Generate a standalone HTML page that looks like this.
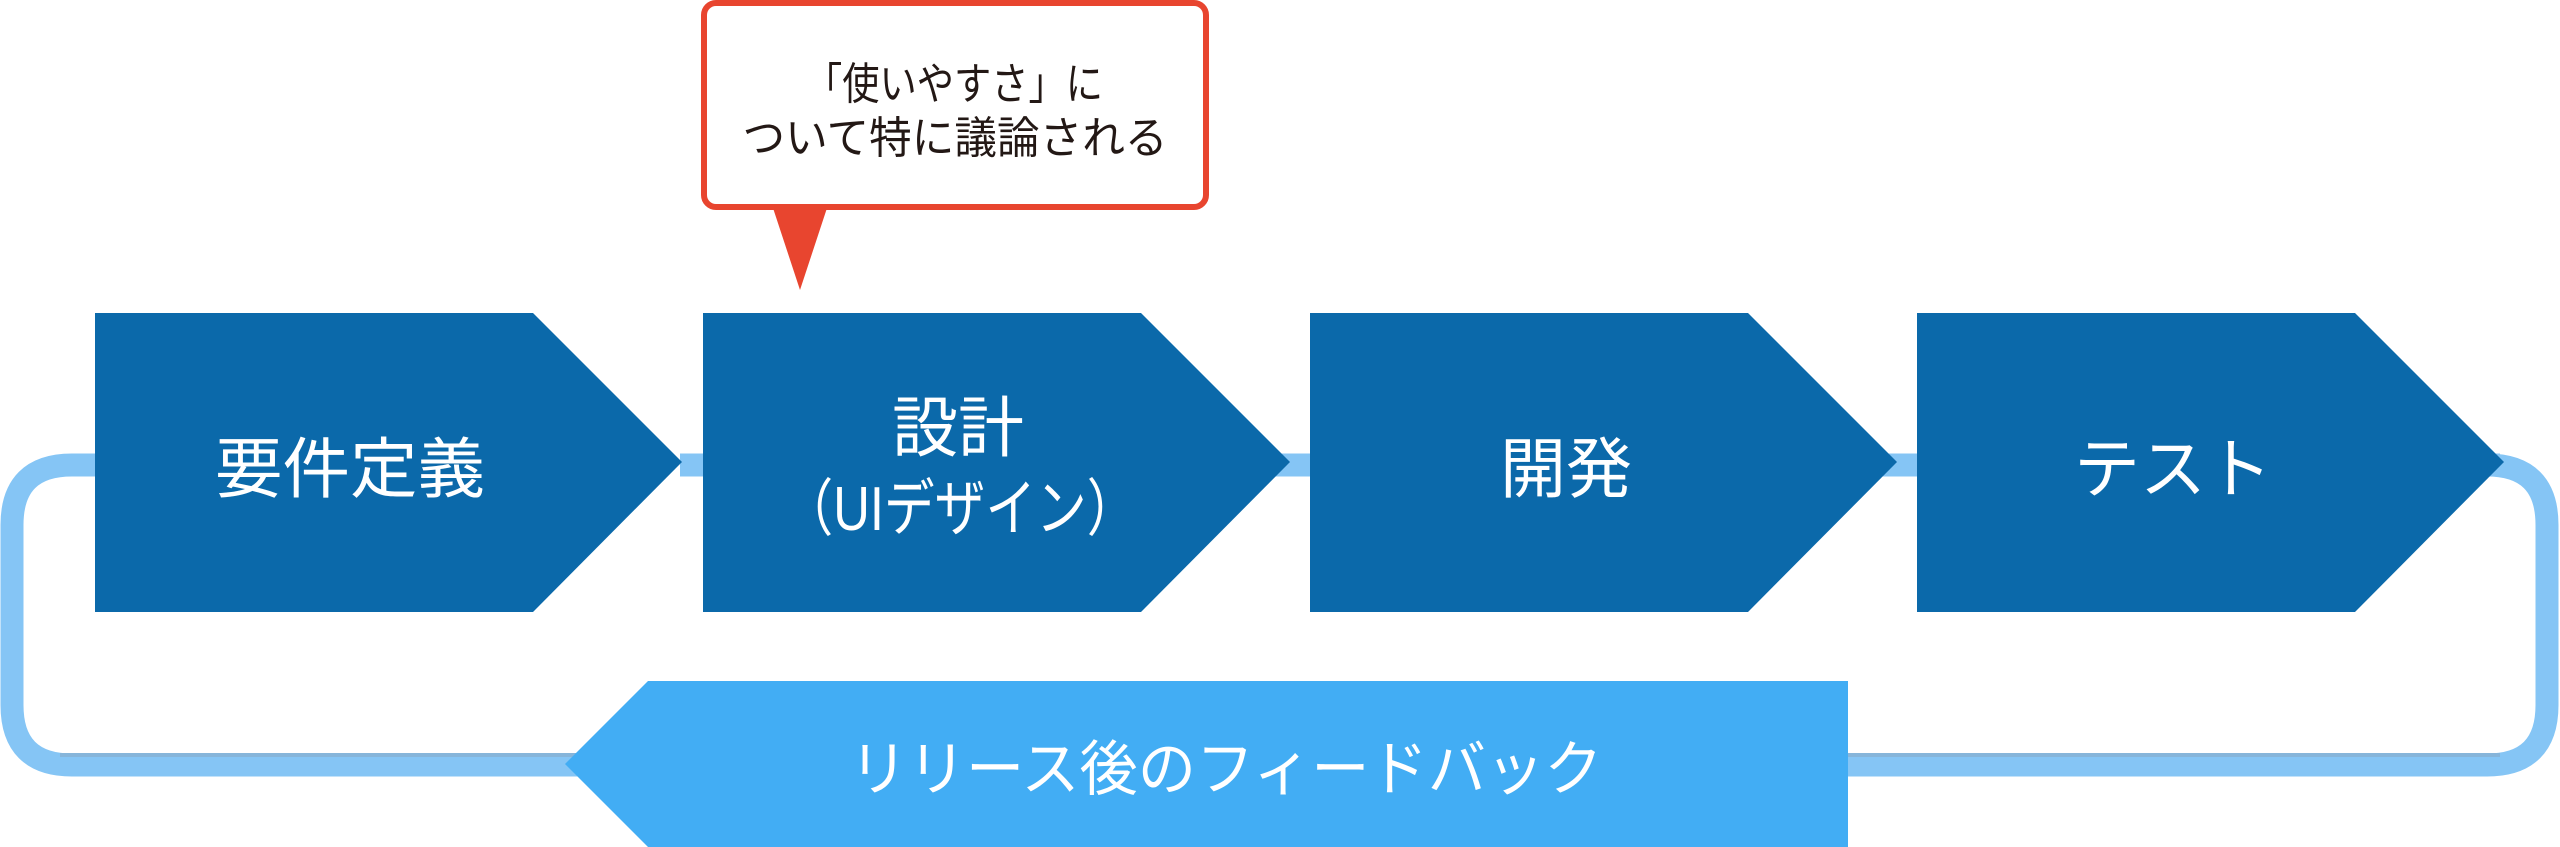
<!DOCTYPE html>
<html><head><meta charset="utf-8"><style>
html,body{margin:0;padding:0;background:#fff;}
svg{display:block;}
text{font-family:"Liberation Sans","Noto Sans CJK JP",sans-serif;}
</style></head><body>
<svg width="2560" height="847" viewBox="0 0 2560 847" xmlns="http://www.w3.org/2000/svg">
<!-- loop line -->
<path d="M95 465 H72 Q12 465 12 525 V705 Q12 765 72 765 H2487 Q2547 765 2547 705 V525 Q2547 465 2487 465 H2480" fill="none" stroke="#85C5F5" stroke-width="23"/>
<line x1="680" y1="465" x2="2500" y2="465" stroke="#85C5F5" stroke-width="23"/>
<line x1="60" y1="755" x2="2500" y2="755" stroke="#86B5DA" stroke-width="4"/>
<!-- boxes -->
<polygon points="95,313 533,313 682,462 533,612 95,612" fill="#0B69AA"/>
<polygon points="703,313 1141,313 1290,462 1141,612 703,612" fill="#0B69AA"/>
<polygon points="1310,313 1748,313 1897,462 1748,612 1310,612" fill="#0B69AA"/>
<polygon points="1917,313 2355,313 2504,462 2355,612 1917,612" fill="#0B69AA"/>
<g fill="#fff" font-size="66" text-anchor="middle">
<text x="350" y="492" textLength="270" lengthAdjust="spacingAndGlyphs">要件定義</text>
<text x="958" y="451">設計</text>
<text x="960" y="530" font-size="62" textLength="355" lengthAdjust="spacingAndGlyphs">（UIデザイン）</text>
<text x="1566" y="492">開発</text>
<text x="2173" y="492">テスト</text>
</g>
<!-- feedback -->
<polygon points="648,681 1848,681 1848,847 648,847 565,764" fill="#42ADF4"/>
<text x="1226" y="790" fill="#fff" font-size="60" text-anchor="middle" textLength="753" lengthAdjust="spacingAndGlyphs">リリース後のフィードバック</text>
<!-- callout -->
<polygon points="772,205 828,205 800,290" fill="#E8452F"/>
<rect x="704" y="3" width="502" height="204" rx="12" fill="#fff" stroke="#E8452F" stroke-width="6"/>
<g fill="#231815" font-size="44" text-anchor="middle">
<text x="954" y="99" textLength="298" lengthAdjust="spacingAndGlyphs">「使いやすさ」に</text>
<text x="955" y="153" textLength="425" lengthAdjust="spacingAndGlyphs">ついて特に議論される</text>
</g>
</svg>
</body></html>
